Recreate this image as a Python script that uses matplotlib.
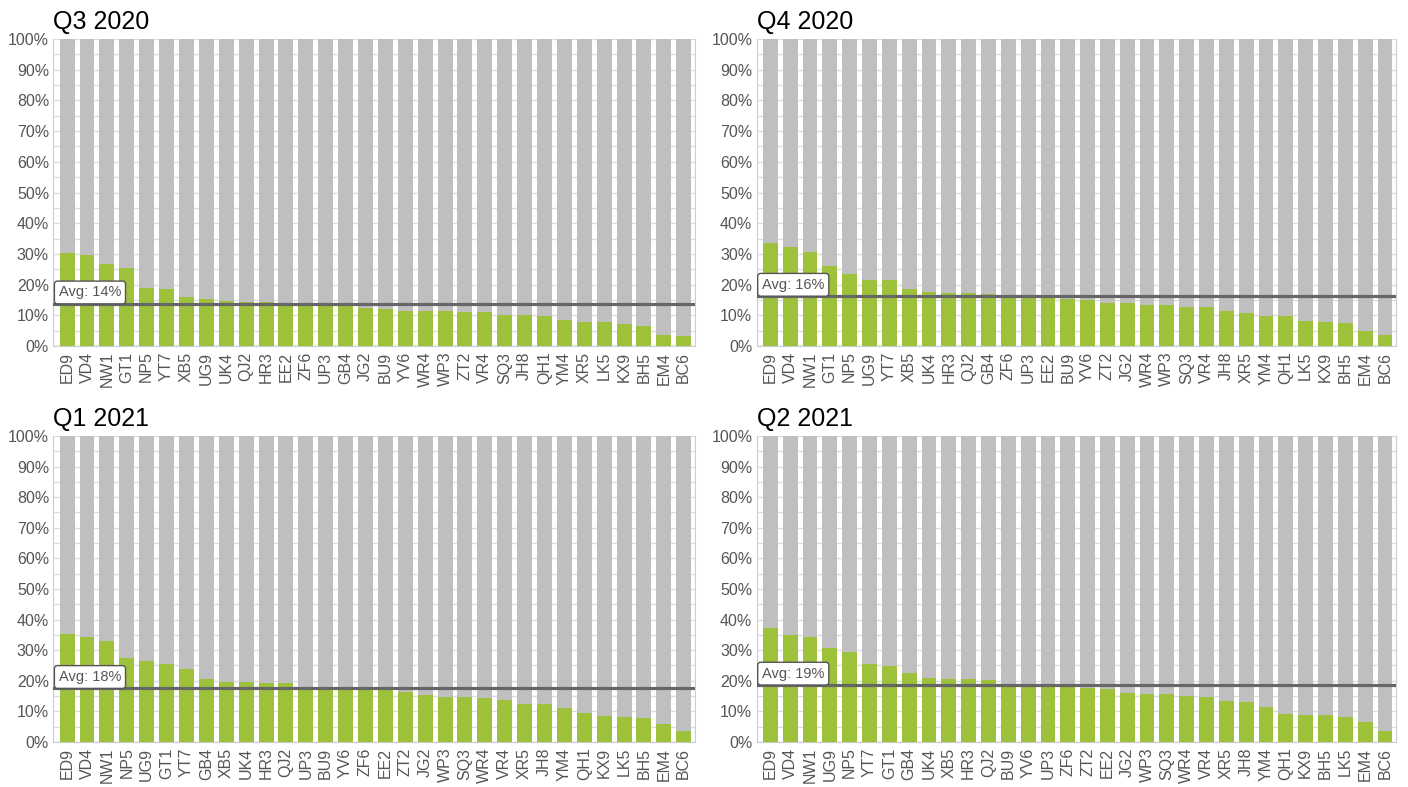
import matplotlib.pyplot as plt
import matplotlib.transforms as mtransforms
import numpy as np

plt.rcParams.update({
    "font.family": ["Liberation Sans", "DejaVu Sans"],
    "font.size": 11,
})

# --- data ---
titles = ["Q3 2020", "Q4 2020", "Q1 2021", "Q2 2021"]

labels_q3_2020 = ["ED9", "VD4", "NW1", "GT1", "NP5", "YT7", "XB5", "UG9", "UK4", "QJ2", "HR3",
                  "EE2", "ZF6", "UP3", "GB4", "JG2", "BU9", "YV6", "WR4", "WP3", "ZT2", "VR4",
                  "SQ3", "JH8", "QH1", "YM4", "XR5", "LK5", "KX9", "BH5", "EM4", "BC6"]
values_q3_2020 = [30.2, 29.6, 26.7, 25.4, 18.9, 18.6, 16.0, 15.3, 14.7, 14.4, 14.4,
                  13.6, 13.5, 13.4, 13.0, 12.4, 12.1, 11.4, 11.4, 11.4, 11.1, 11.1,
                  10.1, 10.1, 9.8, 8.5, 7.8, 7.8, 7.2, 6.5, 3.6, 3.3]

labels_q4_2020 = ["ED9", "VD4", "NW1", "GT1", "NP5", "UG9", "YT7", "XB5", "UK4", "HR3", "QJ2",
                  "GB4", "ZF6", "UP3", "EE2", "BU9", "YV6", "ZT2", "JG2", "WR4", "WP3", "SQ3",
                  "VR4", "JH8", "XR5", "YM4", "QH1", "LK5", "KX9", "BH5", "EM4", "BC6"]
values_q4_2020 = [33.7, 32.4, 30.6, 26.2, 23.6, 21.6, 21.6, 18.6, 17.7, 17.4, 17.4,
                  17.0, 16.6, 16.3, 15.6, 15.3, 15.0, 14.1, 14.1, 13.5, 13.5, 12.8,
                  12.8, 11.5, 10.9, 9.9, 9.9, 8.2, 7.9, 7.5, 5.0, 3.7]

labels_q1_2021 = ["ED9", "VD4", "NW1", "NP5", "UG9", "GT1", "YT7", "GB4", "XB5", "UK4", "HR3",
                  "QJ2", "UP3", "BU9", "YV6", "ZF6", "EE2", "ZT2", "JG2", "WP3", "SQ3", "WR4",
                  "VR4", "XR5", "JH8", "YM4", "QH1", "KX9", "LK5", "BH5", "EM4", "BC6"]
values_q1_2021 = [35.4, 34.4, 33.0, 27.5, 26.5, 25.5, 23.9, 20.6, 19.6, 19.6, 19.3,
                  19.3, 17.6, 17.5, 17.3, 17.1, 17.1, 16.4, 15.4, 14.7, 14.7, 14.4,
                  13.7, 12.4, 12.4, 11.1, 9.5, 8.5, 8.2, 7.8, 5.9, 3.6]

labels_q2_2021 = ["ED9", "VD4", "NW1", "UG9", "NP5", "YT7", "GT1", "GB4", "UK4", "XB5", "HR3",
                  "QJ2", "BU9", "YV6", "UP3", "ZF6", "ZT2", "EE2", "JG2", "WP3", "SQ3", "WR4",
                  "VR4", "XR5", "JH8", "YM4", "QH1", "KX9", "BH5", "LK5", "EM4", "BC6"]
values_q2_2021 = [37.4, 35.1, 34.4, 30.7, 29.4, 25.5, 24.8, 22.5, 20.9, 20.6, 20.6,
                  20.3, 19.0, 18.8, 18.3, 18.0, 17.6, 17.3, 16.0, 15.7, 15.7, 15.0,
                  14.7, 13.4, 13.1, 11.4, 9.2, 8.8, 8.8, 8.2, 6.5, 3.6]

averages = [13.7, 16.2, 17.5, 18.6]

all_labels = [labels_q3_2020, labels_q4_2020, labels_q1_2021, labels_q2_2021]
all_values = [values_q3_2020, values_q4_2020, values_q1_2021, values_q2_2021]

GREEN = "#9dc13b"
GREY = "#bfbfbf"
TXT = "#555555"

fig = plt.figure(figsize=(14.08, 7.87), dpi=100)

# axes rectangles in figure fractions (left, bottom, width, height)
rects = [
    (0.0378, 0.5604, 0.4560, 0.3900),
    (0.5373, 0.5604, 0.4545, 0.3900),
    (0.0378, 0.0572, 0.4560, 0.3888),
    (0.5373, 0.0572, 0.4545, 0.3888),
]

for rect, title, labels, values, avg in zip(rects, titles, all_labels, all_values, averages):
    ax = fig.add_axes(rect)
    x = np.arange(len(labels))
    ax.bar(x, [100] * len(labels), width=0.75, color=GREY, zorder=2)
    ax.bar(x, values, width=0.75, color=GREEN, zorder=3)

    ax.axhline(avg, color="#666666", lw=2.3, zorder=4)
    trans = mtransforms.blended_transform_factory(ax.transAxes, ax.transData)
    ax.annotate(f"Avg: {avg:.0f}%", xy=(0, avg), xycoords=trans,
                xytext=(4, 3.2), textcoords="offset points",
                ha="left", va="bottom", fontsize=10.5, color=TXT, zorder=5,
                bbox=dict(boxstyle="round,pad=0.3,rounding_size=0.2",
                          fc="white", ec="#555555", lw=1))

    ax.set_xlim(-0.7, len(labels) - 0.42)
    ax.set_ylim(0, 100)
    ax.set_yticks(np.arange(0, 101, 10))
    ax.set_yticklabels([f"{v}%" for v in range(0, 101, 10)])
    ax.set_yticks(np.arange(0, 101, 5), minor=True)
    ax.grid(axis="y", which="both", color="#dddddd", lw=1, zorder=0)
    ax.set_axisbelow(True)

    ax.set_xticks(x)
    ax.set_xticklabels(labels, rotation=90)
    ax.tick_params(axis="both", length=0, colors=TXT, labelsize=11.5)
    ax.tick_params(axis="x", pad=4)
    ax.tick_params(axis="y", pad=3)
    ax.tick_params(axis="y", which="minor", length=0)

    for side in ["left", "bottom", "right", "top"]:
        ax.spines[side].set_color("#cccccc")
    ax.spines["top"].set_visible(False)

    ax.set_title(title, loc="left", fontsize=18, pad=7, color="black")

plt.savefig("out.png", dpi=100)
